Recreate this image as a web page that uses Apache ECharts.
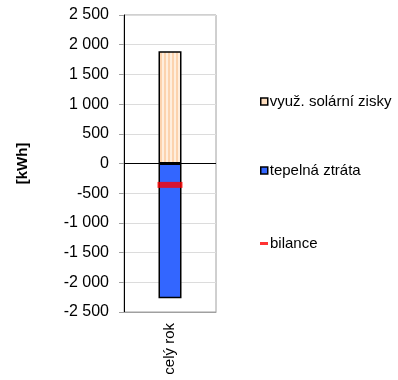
<!DOCTYPE html>
<html>
<head>
<meta charset="utf-8">
<script src="https://cdn.jsdelivr.net/npm/echarts@6/dist/echarts.min.js"></script>
<style>
  html, body { margin: 0; padding: 0; background: #fff; }
  #chart { width: 398px; height: 380px; }
</style>
</head>
<body>
<div id="chart"></div>
<script>
  // data
  var categories = ['celý rok'];
  var solarGains = [1890];     // využ. solární zisky
  var heatLoss = [-2270];      // tepelná ztráta
  var balance = [-360];        // bilance
  var seriesNames = ['využ. solární zisky', 'tepelná ztráta', 'bilance'];

  // vertical stripe fill for the solar bar
  var stripe = document.createElement('canvas');
  stripe.width = 4;
  stripe.height = 4;
  var ctx = stripe.getContext('2d');
  ctx.fillStyle = '#FFEEDD';
  ctx.fillRect(0, 0, 4, 4);
  ctx.fillStyle = '#FCD3AE';
  ctx.fillRect(0, 0, 2, 4);

  function fmt(v) {
    var s = String(Math.abs(v)).replace(/\B(?=(\d{3})+(?!\d))/g, ' ');
    return (v < 0 ? '-' : '') + s;
  }

  var font = 'Liberation Sans, Arial, sans-serif';
  var legendText = { fontSize: 15, color: '#000', fontFamily: font, padding: [0, 0, 0, -3] };
  var myChart = echarts.init(document.getElementById('chart'));
  myChart.setOption({
    animation: false,
    textStyle: { fontFamily: font },
    grid: {
      left: 124, right: 182, top: 15, bottom: 68,
      show: true, borderColor: '#a0a0a0', borderWidth: 1
    },
    xAxis: {
      type: 'category',
      data: categories,
      axisLine: { onZero: false, lineStyle: { color: '#a0a0a0' } },
      axisTick: { show: false },
      axisLabel: { rotate: 90, margin: 11, fontSize: 15, color: '#000', fontFamily: font }
    },
    yAxis: {
      type: 'value',
      min: -2500, max: 2500, interval: 500,
      name: '[kWh]',
      nameLocation: 'middle',
      nameGap: 94,
      nameTextStyle: { fontSize: 15, fontWeight: 'bold', color: '#000', fontFamily: font },
      axisLine: { show: true, lineStyle: { color: '#000' } },
      axisTick: { show: true, length: 5, lineStyle: { color: '#a0a0a0' } },
      axisLabel: { fontSize: 16, color: '#000', margin: 15, fontFamily: font, formatter: fmt },
      splitLine: { lineStyle: { color: '#dcdcdc' } }
    },
    legend: [
      {
        data: [{ name: seriesNames[0], icon: 'rect', itemStyle: { color: '#FDDDBE', borderColor: '#000', borderWidth: 1.5 } }],
        left: 255, top: 89, itemWidth: 7, itemHeight: 7,
        textStyle: legendText
      },
      {
        data: [{ name: seriesNames[1], icon: 'rect', itemStyle: { color: '#3366FF', borderColor: '#000', borderWidth: 1.5 } }],
        left: 255, top: 158, itemWidth: 7, itemHeight: 7,
        textStyle: legendText
      },
      {
        data: [{ name: seriesNames[2], icon: 'rect' }],
        left: 255, top: 231, itemWidth: 8, itemHeight: 3,
        textStyle: legendText
      }
    ],
    series: [
      {
        name: seriesNames[0],
        type: 'bar',
        data: solarGains,
        barWidth: 23,
        barGap: '-100%',
        itemStyle: { color: { image: stripe, repeat: 'repeat' }, borderColor: '#000', borderWidth: 1.5 },
        markLine: {
          silent: true,
          symbol: 'none',
          label: { show: false },
          lineStyle: { color: '#000', width: 1, type: 'solid' },
          data: [{ yAxis: 0 }]
        }
      },
      {
        name: seriesNames[1],
        type: 'bar',
        data: heatLoss,
        barWidth: 23,
        itemStyle: { color: '#3366FF', borderColor: '#000', borderWidth: 1.5 }
      },
      {
        name: seriesNames[2],
        type: 'scatter',
        data: balance,
        symbol: 'rect',
        symbolSize: [25, 6],
        z: 5,
        itemStyle: { color: '#FF0000' }
      }
    ]
  });
</script>
</body>
</html>
